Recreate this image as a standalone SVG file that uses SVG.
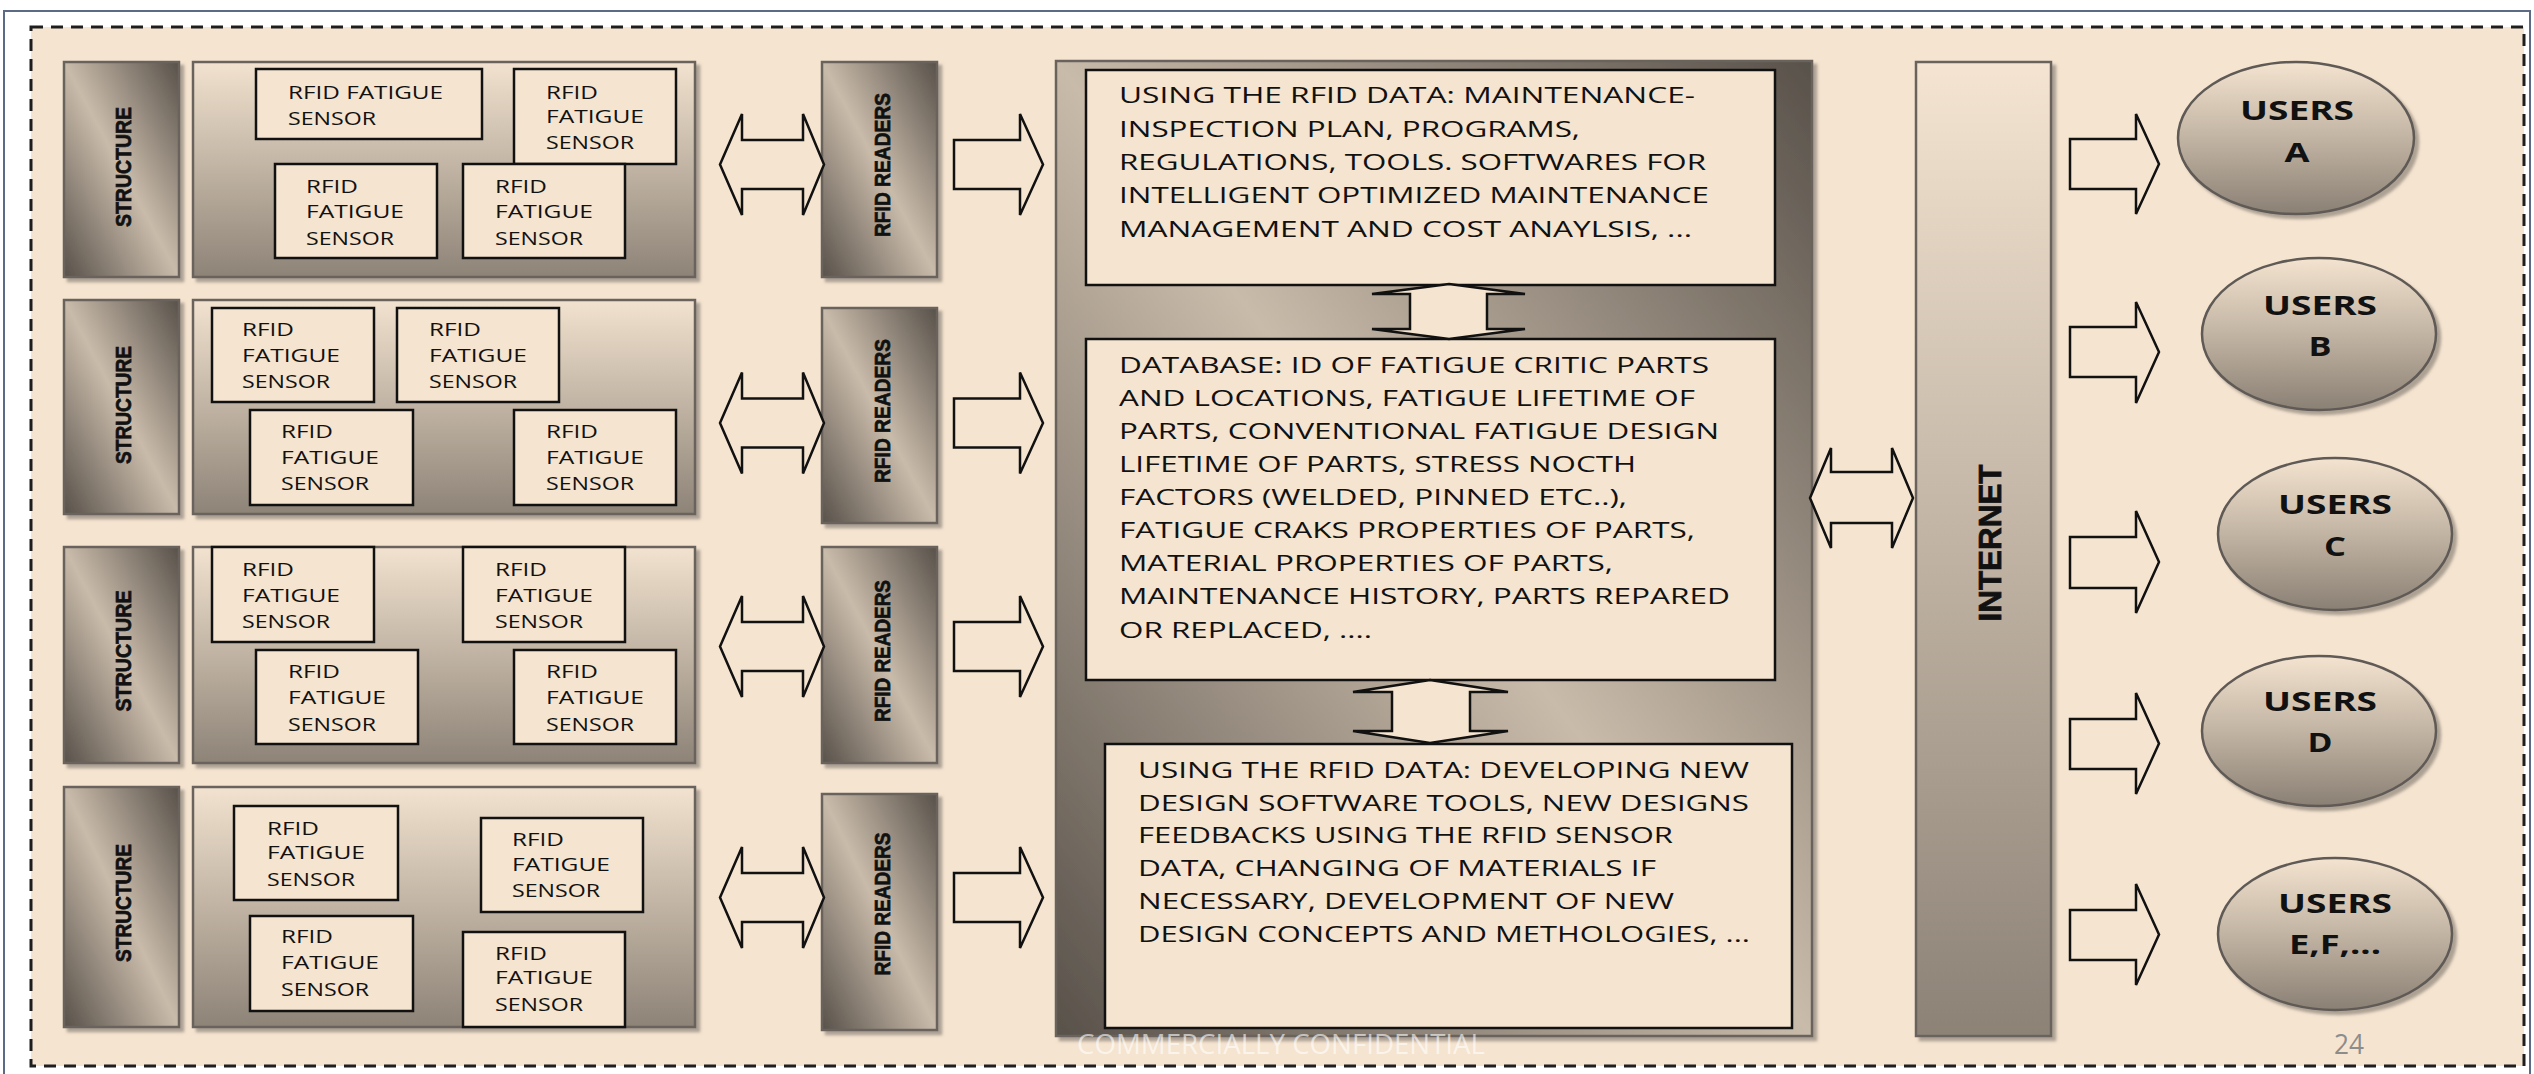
<svg xmlns="http://www.w3.org/2000/svg" width="2534" height="1074" viewBox="0 0 2534 1074">
<style>
.t{font-family:"Open Sans","Noto Sans","Liberation Sans",sans-serif;fill:#111;}
.s{font-size:17.5px;}
.p{font-size:21px;}
.v{font-family:"Liberation Sans",Arial,sans-serif;font-weight:bold;fill:#111;stroke:#111;stroke-width:0.7;}
.u{font-family:"Open Sans","Liberation Sans",sans-serif;font-weight:bold;font-size:26px;fill:#111;text-anchor:middle;}
.box{fill:#f5e4d0;stroke:#111;stroke-width:2.5;}
.cont{fill:url(#gCont);stroke:#6a645d;stroke-width:2.5;filter:url(#sh);}
.bar{fill:url(#gBar);stroke:#6a645d;stroke-width:2.5;filter:url(#sh);}
.arr{fill:#f5e4d0;stroke:#111;stroke-width:2.5;stroke-linejoin:miter;}
.usr{fill:url(#gUser);stroke:#5f5a55;stroke-width:2.5;filter:url(#sh);}
</style>
<defs>
<linearGradient id="gCont" x1="0" y1="0" x2="0" y2="1">
<stop offset="0" stop-color="#f2e2cf"/><stop offset="0.5" stop-color="#c0b3a3"/><stop offset="1" stop-color="#8d8377"/>
</linearGradient>
<linearGradient id="gBar" x1="1" y1="0" x2="0" y2="1">
<stop offset="0" stop-color="#58514a"/><stop offset="0.5" stop-color="#c9bbaa"/><stop offset="1" stop-color="#58514a"/>
</linearGradient>
<linearGradient id="gInt" x1="0" y1="0" x2="0" y2="1">
<stop offset="0" stop-color="#f4e4d1"/><stop offset="1" stop-color="#8c8276"/>
</linearGradient>
<linearGradient id="gUser" x1="0" y1="0" x2="0" y2="1">
<stop offset="0" stop-color="#f3e3cf"/><stop offset="0.5" stop-color="#c2b4a3"/><stop offset="1" stop-color="#8a8074"/>
</linearGradient>
<filter id="sh" x="-10%" y="-10%" width="125%" height="125%">
<feDropShadow dx="4" dy="4" stdDeviation="1.5" flood-color="#6f6962" flood-opacity="0.55"/>
</filter>
</defs>

<rect x="0" y="0" width="2534" height="1074" fill="#ffffff"/>
<rect x="4" y="11" width="2526" height="1090" fill="#ffffff" stroke="#5b6b86" stroke-width="2"/>
<rect x="31" y="27" width="2493" height="1039" fill="#f5e4d0" stroke="#1e1e1e" stroke-width="3" stroke-dasharray="12 8"/>

<!-- Row 1 -->
<g id="structure1"><rect class="bar" x="64" y="62" width="115" height="215"/>
<text class="v" transform="translate(122.5,167) rotate(-90)" x="0" y="8" font-size="22" text-anchor="middle" textLength="120" lengthAdjust="spacingAndGlyphs">STRUCTURE</text></g>
<g id="sensors1"><rect class="cont" x="193" y="62" width="502" height="215"/>
<g id="s1a"><rect class="box" x="256" y="69" width="226" height="70"/>
<text class="t s" x="288" y="99" textLength="155" lengthAdjust="spacingAndGlyphs">RFID FATIGUE</text>
<text class="t s" x="288" y="125" textLength="88" lengthAdjust="spacingAndGlyphs">SENSOR</text></g>
<g id="s1b"><rect class="box" x="514" y="69" width="162" height="95"/>
<text class="t s" x="546" y="99" textLength="52" lengthAdjust="spacingAndGlyphs">RFID</text>
<text class="t s" x="546" y="123" textLength="98" lengthAdjust="spacingAndGlyphs">FATIGUE</text>
<text class="t s" x="546" y="149" textLength="88" lengthAdjust="spacingAndGlyphs">SENSOR</text></g>
<g id="s1c"><rect class="box" x="275" y="164" width="162" height="94"/>
<text class="t s" x="306" y="193" textLength="52" lengthAdjust="spacingAndGlyphs">RFID</text>
<text class="t s" x="306" y="218" textLength="98" lengthAdjust="spacingAndGlyphs">FATIGUE</text>
<text class="t s" x="306" y="245" textLength="88" lengthAdjust="spacingAndGlyphs">SENSOR</text></g>
<g id="s1d"><rect class="box" x="463" y="164" width="162" height="94"/>
<text class="t s" x="495" y="193" textLength="52" lengthAdjust="spacingAndGlyphs">RFID</text>
<text class="t s" x="495" y="218" textLength="98" lengthAdjust="spacingAndGlyphs">FATIGUE</text>
<text class="t s" x="495" y="245" textLength="88" lengthAdjust="spacingAndGlyphs">SENSOR</text></g></g>
<g id="readers1"><rect class="bar" x="822" y="62" width="115" height="215"/>
<text class="v" transform="translate(881.5,165) rotate(-90)" x="0" y="8" font-size="22" text-anchor="middle" textLength="144" lengthAdjust="spacingAndGlyphs">RFID READERS</text></g>

<!-- Row 2 -->
<g id="structure2"><rect class="bar" x="64" y="300" width="115" height="214"/>
<text class="v" transform="translate(122.5,405) rotate(-90)" x="0" y="8" font-size="22" text-anchor="middle" textLength="118" lengthAdjust="spacingAndGlyphs">STRUCTURE</text></g>
<g id="sensors2"><rect class="cont" x="193" y="300" width="502" height="214"/>
<g id="s2a"><rect class="box" x="212" y="308" width="162" height="94"/>
<text class="t s" x="242" y="336" textLength="52" lengthAdjust="spacingAndGlyphs">RFID</text>
<text class="t s" x="242" y="362" textLength="98" lengthAdjust="spacingAndGlyphs">FATIGUE</text>
<text class="t s" x="242" y="388" textLength="88" lengthAdjust="spacingAndGlyphs">SENSOR</text></g>
<g id="s2b"><rect class="box" x="397" y="308" width="162" height="94"/>
<text class="t s" x="429" y="336" textLength="52" lengthAdjust="spacingAndGlyphs">RFID</text>
<text class="t s" x="429" y="362" textLength="98" lengthAdjust="spacingAndGlyphs">FATIGUE</text>
<text class="t s" x="429" y="388" textLength="88" lengthAdjust="spacingAndGlyphs">SENSOR</text></g>
<g id="s2c"><rect class="box" x="250" y="410" width="163" height="95"/>
<text class="t s" x="281" y="438" textLength="52" lengthAdjust="spacingAndGlyphs">RFID</text>
<text class="t s" x="281" y="464" textLength="98" lengthAdjust="spacingAndGlyphs">FATIGUE</text>
<text class="t s" x="281" y="490" textLength="88" lengthAdjust="spacingAndGlyphs">SENSOR</text></g>
<g id="s2d"><rect class="box" x="514" y="410" width="162" height="95"/>
<text class="t s" x="546" y="438" textLength="52" lengthAdjust="spacingAndGlyphs">RFID</text>
<text class="t s" x="546" y="464" textLength="98" lengthAdjust="spacingAndGlyphs">FATIGUE</text>
<text class="t s" x="546" y="490" textLength="88" lengthAdjust="spacingAndGlyphs">SENSOR</text></g></g>
<g id="readers2"><rect class="bar" x="822" y="308" width="115" height="215"/>
<text class="v" transform="translate(881.5,411) rotate(-90)" x="0" y="8" font-size="22" text-anchor="middle" textLength="144" lengthAdjust="spacingAndGlyphs">RFID READERS</text></g>

<!-- Row 3 -->
<g id="structure3"><rect class="bar" x="64" y="547" width="115" height="216"/>
<text class="v" transform="translate(122.5,651) rotate(-90)" x="0" y="8" font-size="22" text-anchor="middle" textLength="121" lengthAdjust="spacingAndGlyphs">STRUCTURE</text></g>
<g id="sensors3"><rect class="cont" x="193" y="547" width="502" height="216"/>
<g id="s3a"><rect class="box" x="212" y="547" width="162" height="95"/>
<text class="t s" x="242" y="576" textLength="52" lengthAdjust="spacingAndGlyphs">RFID</text>
<text class="t s" x="242" y="602" textLength="98" lengthAdjust="spacingAndGlyphs">FATIGUE</text>
<text class="t s" x="242" y="628" textLength="88" lengthAdjust="spacingAndGlyphs">SENSOR</text></g>
<g id="s3b"><rect class="box" x="463" y="547" width="162" height="95"/>
<text class="t s" x="495" y="576" textLength="52" lengthAdjust="spacingAndGlyphs">RFID</text>
<text class="t s" x="495" y="602" textLength="98" lengthAdjust="spacingAndGlyphs">FATIGUE</text>
<text class="t s" x="495" y="628" textLength="88" lengthAdjust="spacingAndGlyphs">SENSOR</text></g>
<g id="s3c"><rect class="box" x="256" y="650" width="162" height="94"/>
<text class="t s" x="288" y="678" textLength="52" lengthAdjust="spacingAndGlyphs">RFID</text>
<text class="t s" x="288" y="704" textLength="98" lengthAdjust="spacingAndGlyphs">FATIGUE</text>
<text class="t s" x="288" y="731" textLength="88" lengthAdjust="spacingAndGlyphs">SENSOR</text></g>
<g id="s3d"><rect class="box" x="514" y="650" width="162" height="94"/>
<text class="t s" x="546" y="678" textLength="52" lengthAdjust="spacingAndGlyphs">RFID</text>
<text class="t s" x="546" y="704" textLength="98" lengthAdjust="spacingAndGlyphs">FATIGUE</text>
<text class="t s" x="546" y="731" textLength="88" lengthAdjust="spacingAndGlyphs">SENSOR</text></g></g>
<g id="readers3"><rect class="bar" x="822" y="547" width="115" height="216"/>
<text class="v" transform="translate(881.5,651) rotate(-90)" x="0" y="8" font-size="22" text-anchor="middle" textLength="142" lengthAdjust="spacingAndGlyphs">RFID READERS</text></g>

<!-- Row 4 -->
<g id="structure4"><rect class="bar" x="64" y="787" width="115" height="240"/>
<text class="v" transform="translate(122.5,903) rotate(-90)" x="0" y="8" font-size="22" text-anchor="middle" textLength="118" lengthAdjust="spacingAndGlyphs">STRUCTURE</text></g>
<g id="sensors4"><rect class="cont" x="193" y="787" width="502" height="240"/>
<g id="s4a"><rect class="box" x="234" y="806" width="164" height="94"/>
<text class="t s" x="267" y="835" textLength="52" lengthAdjust="spacingAndGlyphs">RFID</text>
<text class="t s" x="267" y="859" textLength="98" lengthAdjust="spacingAndGlyphs">FATIGUE</text>
<text class="t s" x="267" y="886" textLength="88" lengthAdjust="spacingAndGlyphs">SENSOR</text></g>
<g id="s4b"><rect class="box" x="481" y="818" width="162" height="94"/>
<text class="t s" x="512" y="846" textLength="52" lengthAdjust="spacingAndGlyphs">RFID</text>
<text class="t s" x="512" y="871" textLength="98" lengthAdjust="spacingAndGlyphs">FATIGUE</text>
<text class="t s" x="512" y="897" textLength="88" lengthAdjust="spacingAndGlyphs">SENSOR</text></g>
<g id="s4c"><rect class="box" x="250" y="916" width="163" height="95"/>
<text class="t s" x="281" y="943" textLength="52" lengthAdjust="spacingAndGlyphs">RFID</text>
<text class="t s" x="281" y="969" textLength="98" lengthAdjust="spacingAndGlyphs">FATIGUE</text>
<text class="t s" x="281" y="996" textLength="88" lengthAdjust="spacingAndGlyphs">SENSOR</text></g>
<g id="s4d"><rect class="box" x="463" y="932" width="162" height="95"/>
<text class="t s" x="495" y="960" textLength="52" lengthAdjust="spacingAndGlyphs">RFID</text>
<text class="t s" x="495" y="984" textLength="98" lengthAdjust="spacingAndGlyphs">FATIGUE</text>
<text class="t s" x="495" y="1011" textLength="88" lengthAdjust="spacingAndGlyphs">SENSOR</text></g></g>
<g id="readers4"><rect class="bar" x="822" y="794" width="115" height="236"/>
<text class="v" transform="translate(881.5,904) rotate(-90)" x="0" y="8" font-size="22" text-anchor="middle" textLength="143" lengthAdjust="spacingAndGlyphs">RFID READERS</text></g>

<!-- Central panel -->
<g id="panel"><rect class="bar" x="1056" y="61" width="756" height="975"/>
<g id="maintenance"><rect class="box" x="1086" y="70" width="689" height="215"/>
<text class="t p" x="1119" y="103" textLength="576" lengthAdjust="spacingAndGlyphs">USING THE RFID DATA: MAINTENANCE-</text>
<text class="t p" x="1119" y="137" textLength="461" lengthAdjust="spacingAndGlyphs">INSPECTION PLAN, PROGRAMS,</text>
<text class="t p" x="1119" y="170" textLength="587" lengthAdjust="spacingAndGlyphs">REGULATIONS, TOOLS. SOFTWARES FOR</text>
<text class="t p" x="1119" y="203" textLength="590" lengthAdjust="spacingAndGlyphs">INTELLIGENT OPTIMIZED MAINTENANCE</text>
<text class="t p" x="1119" y="237" textLength="573" lengthAdjust="spacingAndGlyphs">MANAGEMENT AND COST ANAYLSIS, ...</text></g>
<g id="database"><rect class="box" x="1086" y="339" width="689" height="341"/>
<text class="t p" x="1119" y="373" textLength="590" lengthAdjust="spacingAndGlyphs">DATABASE: ID OF FATIGUE CRITIC PARTS</text>
<text class="t p" x="1119" y="406" textLength="576" lengthAdjust="spacingAndGlyphs">AND LOCATIONS, FATIGUE LIFETIME OF</text>
<text class="t p" x="1119" y="439" textLength="600" lengthAdjust="spacingAndGlyphs">PARTS, CONVENTIONAL FATIGUE DESIGN</text>
<text class="t p" x="1119" y="472" textLength="517" lengthAdjust="spacingAndGlyphs">LIFETIME OF PARTS, STRESS NOCTH</text>
<text class="t p" x="1119" y="505" textLength="508" lengthAdjust="spacingAndGlyphs">FACTORS (WELDED, PINNED ETC..),</text>
<text class="t p" x="1119" y="538" textLength="576" lengthAdjust="spacingAndGlyphs">FATIGUE CRAKS PROPERTIES OF PARTS,</text>
<text class="t p" x="1119" y="571" textLength="494" lengthAdjust="spacingAndGlyphs">MATERIAL PROPERTIES OF PARTS,</text>
<text class="t p" x="1119" y="604" textLength="611" lengthAdjust="spacingAndGlyphs">MAINTENANCE HISTORY, PARTS REPARED</text>
<text class="t p" x="1119" y="638" textLength="253" lengthAdjust="spacingAndGlyphs">OR REPLACED, ....</text></g>
<g id="design"><rect class="box" x="1105" y="744" width="687" height="284"/>
<text class="t p" x="1138" y="778" textLength="611" lengthAdjust="spacingAndGlyphs">USING THE RFID DATA: DEVELOPING NEW</text>
<text class="t p" x="1138" y="811" textLength="611" lengthAdjust="spacingAndGlyphs">DESIGN SOFTWARE TOOLS, NEW DESIGNS</text>
<text class="t p" x="1138" y="843" textLength="535" lengthAdjust="spacingAndGlyphs">FEEDBACKS USING THE RFID SENSOR</text>
<text class="t p" x="1138" y="876" textLength="518" lengthAdjust="spacingAndGlyphs">DATA, CHANGING OF MATERIALS IF</text>
<text class="t p" x="1138" y="909" textLength="536" lengthAdjust="spacingAndGlyphs">NECESSARY, DEVELOPMENT OF NEW</text>
<text class="t p" x="1138" y="942" textLength="612" lengthAdjust="spacingAndGlyphs">DESIGN CONCEPTS AND METHOLOGIES, ...</text></g></g>

<!-- Internet -->
<g id="internet"><rect x="1916" y="62" width="135" height="974" fill="url(#gInt)" stroke="#6a645d" stroke-width="2.5" filter="url(#sh)"/>
<text class="v" transform="translate(1990,543) rotate(-90)" x="0" y="11" font-size="31" text-anchor="middle" textLength="157" lengthAdjust="spacingAndGlyphs">INTERNET</text></g>

<!-- Users -->
<g id="usersA"><ellipse class="usr" cx="2296" cy="138" rx="118" ry="76"/>
<text class="u" x="2297" y="120" textLength="114" lengthAdjust="spacingAndGlyphs">USERS</text>
<text class="u" x="2297" y="162" textLength="25" lengthAdjust="spacingAndGlyphs">A</text></g>
<g id="usersB"><ellipse class="usr" cx="2319" cy="334" rx="117" ry="76"/>
<text class="u" x="2320" y="315" textLength="114" lengthAdjust="spacingAndGlyphs">USERS</text>
<text class="u" x="2320" y="356" textLength="23" lengthAdjust="spacingAndGlyphs">B</text></g>
<g id="usersC"><ellipse class="usr" cx="2335" cy="534" rx="117" ry="76"/>
<text class="u" x="2335" y="514" textLength="114" lengthAdjust="spacingAndGlyphs">USERS</text>
<text class="u" x="2335" y="556" textLength="22" lengthAdjust="spacingAndGlyphs">C</text></g>
<g id="usersD"><ellipse class="usr" cx="2319" cy="731" rx="117" ry="75"/>
<text class="u" x="2320" y="711" textLength="114" lengthAdjust="spacingAndGlyphs">USERS</text>
<text class="u" x="2320" y="752" textLength="25" lengthAdjust="spacingAndGlyphs">D</text></g>
<g id="usersE"><ellipse class="usr" cx="2335" cy="934" rx="117" ry="76"/>
<text class="u" x="2335" y="913" textLength="114" lengthAdjust="spacingAndGlyphs">USERS</text>
<text class="u" x="2335" y="954" textLength="92" lengthAdjust="spacingAndGlyphs">E,F,...</text></g>

<!-- Connectors -->
<g id="connectors">
<path class="arr" d="M720,164.5 L742,114 L742,140 L803,140 L803,114 L824,164.5 L803,215 L803,189 L742,189 L742,215 Z"/>
<path class="arr" d="M720,423 L742,372.5 L742,398.5 L803,398.5 L803,372.5 L824,423 L803,473.5 L803,447.5 L742,447.5 L742,473.5 Z"/>
<path class="arr" d="M720,646.5 L742,596 L742,622 L803,622 L803,596 L824,646.5 L803,697 L803,671 L742,671 L742,697 Z"/>
<path class="arr" d="M720,897.5 L742,847 L742,873 L803,873 L803,847 L824,897.5 L803,948 L803,922 L742,922 L742,948 Z"/>
<path class="arr" d="M954,140 L1020,140 L1020,114 L1043,164.5 L1020,215 L1020,189 L954,189 Z"/>
<path class="arr" d="M954,398.5 L1020,398.5 L1020,372.5 L1043,423 L1020,473.5 L1020,447.5 L954,447.5 Z"/>
<path class="arr" d="M954,622 L1020,622 L1020,596 L1043,646.5 L1020,697 L1020,671 L954,671 Z"/>
<path class="arr" d="M954,873 L1020,873 L1020,847 L1043,897.5 L1020,948 L1020,922 L954,922 Z"/>
<path class="arr" d="M1449,284 L1525,294 L1487,294 L1487,329 L1525,329 L1449,339 L1372,329 L1410,329 L1410,294 L1372,294 Z"/>
<path class="arr" d="M1430,680 L1508,692 L1470,692 L1470,731 L1508,731 L1430,743 L1353,731 L1392,731 L1392,692 L1353,692 Z"/>
<path class="arr" d="M1810,498 L1831,448 L1831,472 L1892,472 L1892,448 L1913,498 L1892,548 L1892,523 L1831,523 L1831,548 Z"/>
<path class="arr" d="M2070,139 L2136,139 L2136,114 L2159,164 L2136,214 L2136,189 L2070,189 Z"/>
<path class="arr" d="M2070,327 L2136,327 L2136,302 L2159,352 L2136,403 L2136,377 L2070,377 Z"/>
<path class="arr" d="M2070,537 L2136,537 L2136,511 L2159,562 L2136,613 L2136,588 L2070,588 Z"/>
<path class="arr" d="M2070,719 L2136,719 L2136,693 L2159,743.5 L2136,794 L2136,769 L2070,769 Z"/>
<path class="arr" d="M2070,910 L2136,910 L2136,884 L2159,934.5 L2136,985 L2136,960 L2070,960 Z"/>
</g>

<text x="1077" y="1054" font-family="Open Sans,Liberation Sans,sans-serif" font-size="28" fill="#ffffff" fill-opacity="0.6" textLength="408" lengthAdjust="spacingAndGlyphs">COMMERCIALLY CONFIDENTIAL</text>
<text x="2334" y="1054" font-family="Open Sans,Liberation Sans,sans-serif" font-size="27" fill="#8c8c8c" textLength="30" lengthAdjust="spacingAndGlyphs">24</text>
</svg>
